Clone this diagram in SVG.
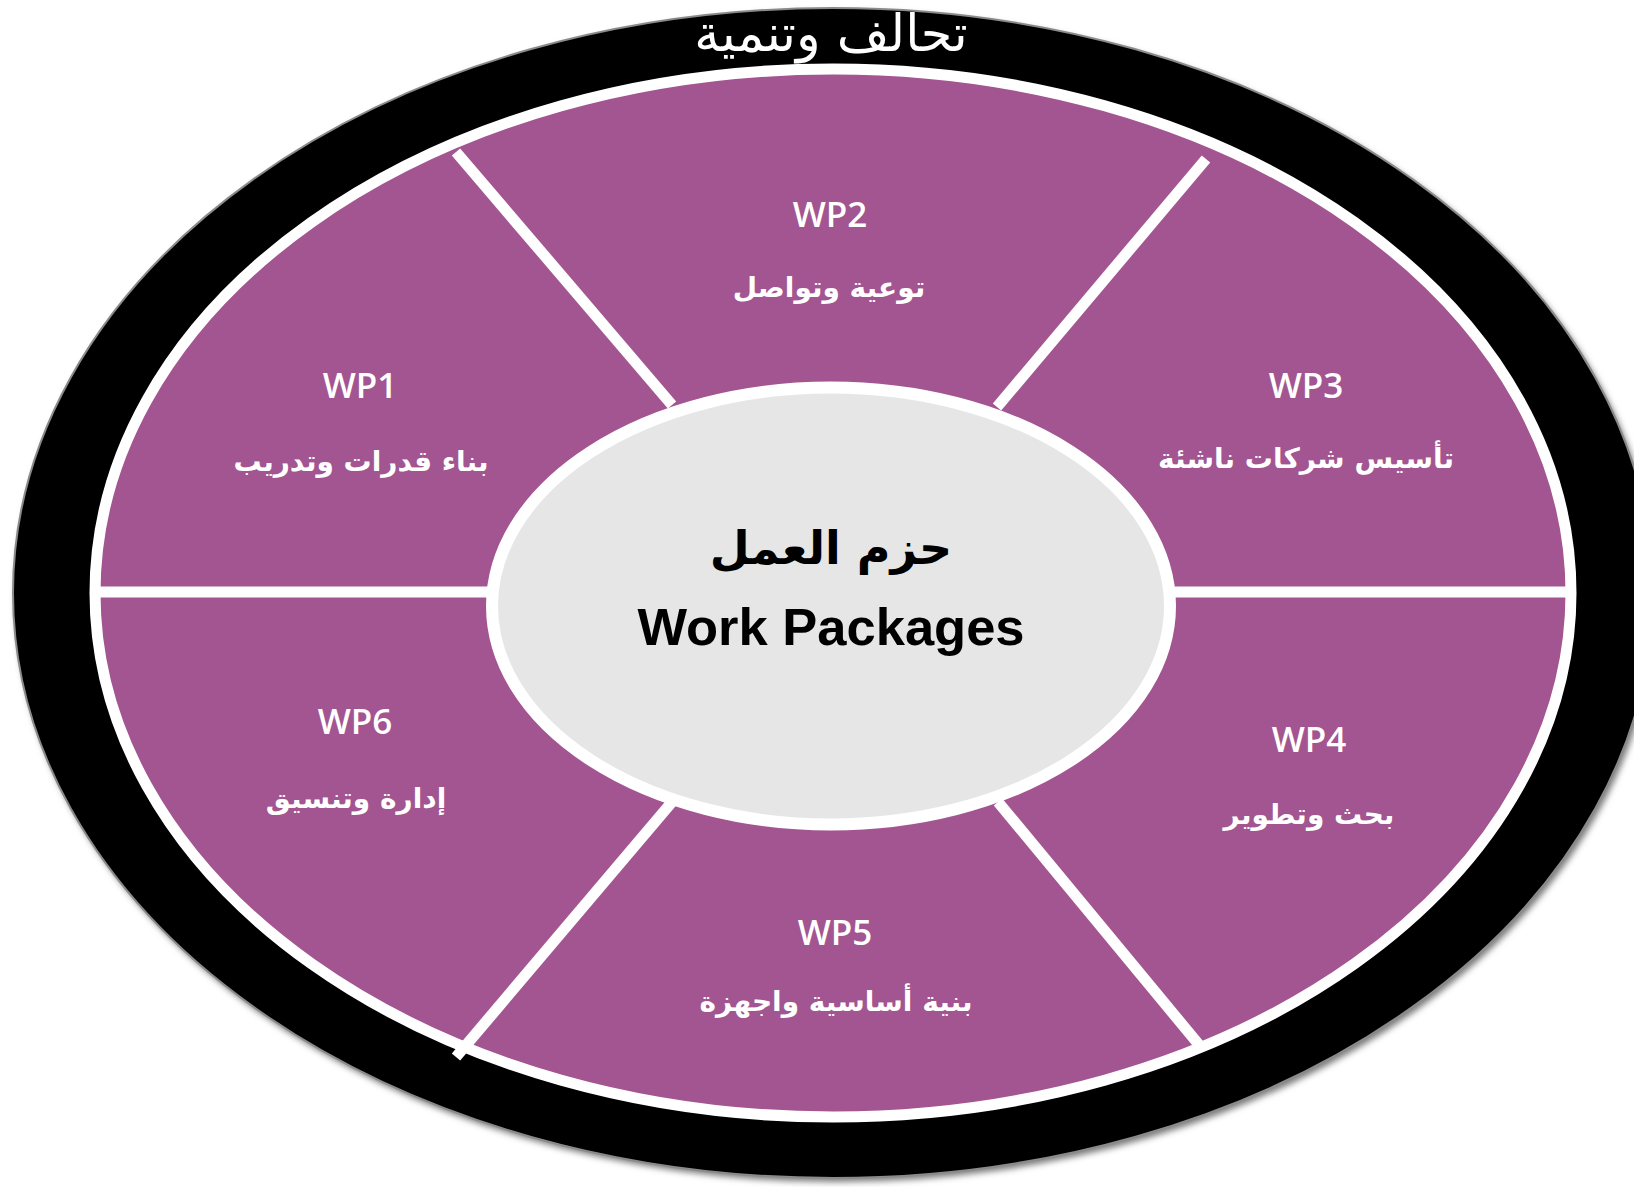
<svg xmlns="http://www.w3.org/2000/svg" width="1634" height="1187" viewBox="0 0 1634 1187">
<style>
.wp{font-family:"Open Sans","Liberation Sans",sans-serif;font-weight:600;font-size:35px;fill:#ffffff;text-anchor:middle}
.ar{font-family:"DejaVu Sans","Noto Sans",sans-serif;font-weight:bold;font-size:28px;fill:#ffffff;text-anchor:middle}
.div{stroke:#ffffff;stroke-width:11;fill:none}
</style>
<defs>
<filter id="sh" x="-5%" y="-5%" width="110%" height="110%"><feGaussianBlur stdDeviation="3"/></filter>
</defs>
<rect width="1634" height="1187" fill="#ffffff"/>
<g id="ring">
<ellipse cx="836" cy="597" rx="820" ry="585" fill="#7a7a7a" filter="url(#sh)"/>
<ellipse cx="833" cy="593" rx="820" ry="585" fill="#000000" stroke="#8a8a8a" stroke-width="2"/>
<text x="831" y="51" font-family="DejaVu Sans, sans-serif" font-size="51" fill="#ffffff" text-anchor="middle">تحالف وتنمية</text>
</g>
<g id="wheel">
<ellipse cx="833" cy="593" rx="738" ry="524" fill="#A25590" stroke="#ffffff" stroke-width="11"/>
</g>
<g id="connectors">
<line class="div" x1="456" y1="152" x2="672" y2="405"/>
<line class="div" x1="1206" y1="159" x2="997" y2="407"/>
<line class="div" x1="672" y1="802" x2="456" y2="1057"/>
<line class="div" x1="998" y1="802" x2="1200" y2="1046"/>
<line class="div" x1="100" y1="592" x2="500" y2="592" stroke-width="12"/>
<line class="div" x1="1160" y1="592" x2="1566" y2="592" stroke-width="12"/>
</g>
<g id="center">
<ellipse cx="831" cy="606" rx="339" ry="218.5" fill="#E6E6E6" stroke="#ffffff" stroke-width="12"/>
<text x="831" y="564" font-family="DejaVu Sans, sans-serif" font-weight="bold" font-size="46" fill="#000000" text-anchor="middle">حزم العمل</text>
<text x="831" y="645" font-family="Liberation Sans, Arial, sans-serif" font-weight="bold" font-size="52.5" fill="#000000" text-anchor="middle">Work Packages</text>
</g>
<g id="wp1">
<text class="wp" x="360" y="398">WP1</text>
<text class="ar" x="361" y="471" font-size="29.5">بناء قدرات وتدريب</text>
</g>
<g id="wp2">
<text class="wp" x="830" y="227">WP2</text>
<text class="ar" x="829" y="297" font-size="28.5">توعية وتواصل</text>
</g>
<g id="wp3">
<text class="wp" x="1306" y="398">WP3</text>
<text class="ar" x="1306" y="468" font-size="27">تأسيس شركات ناشئة</text>
</g>
<g id="wp4">
<text class="wp" x="1309" y="752">WP4</text>
<text class="ar" x="1309" y="824" font-size="29.5">بحث وتطوير</text>
</g>
<g id="wp5">
<text class="wp" x="835" y="945">WP5</text>
<text class="ar" x="836" y="1011" font-size="27.5">بنية أساسية واجهزة</text>
</g>
<g id="wp6">
<text class="wp" x="355" y="734">WP6</text>
<text class="ar" x="356" y="808" font-size="28.5">إدارة وتنسيق</text>
</g>
</svg>
